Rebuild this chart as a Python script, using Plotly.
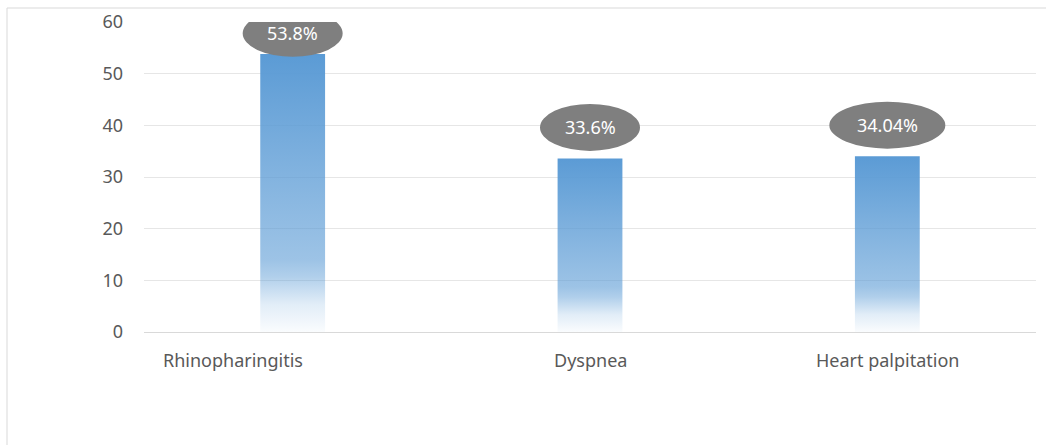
import plotly.graph_objects as go

categories = ["Rhinopharingitis", "Dyspnea", "Heart palpitation"]
values = [53.8, 33.6, 34.04]
value_labels = ["53.8%", "33.6%", "34.04%"]
y_ticks = [0, 10, 20, 30, 40, 50, 60]

FONT = "Noto Sans"
TEXT_COLOR = "#595959"
BAR_W = 0.218
FS = 18

grad = [
    [0.0, "rgba(91,155,213,0.03)"],
    [0.10, "rgba(91,155,213,0.18)"],
    [0.20, "rgba(91,155,213,0.48)"],
    [0.26, "rgba(91,155,213,0.60)"],
    [0.60, "rgba(91,155,213,0.78)"],
    [1.0, "rgba(91,155,213,1.0)"],
]

fig = go.Figure()
for i, (c, v) in enumerate(zip(categories, values)):
    fig.add_trace(go.Scatter(
        x=[i - BAR_W / 2, i + BAR_W / 2, i + BAR_W / 2, i - BAR_W / 2, i - BAR_W / 2],
        y=[0, 0, v, v, 0],
        mode="lines", fill="toself",
        line=dict(width=0, color="rgba(0,0,0,0)"),
        fillgradient=dict(type="vertical", colorscale=grad),
        name=c, showlegend=False, hoverinfo="skip",
    ))

shapes = []
annotations = []
for i, (v, lab) in enumerate(zip(values, value_labels)):
    cy = min(v + 6.0, 57.8)
    half_w = 50 if len(lab) <= 5 else 58
    shapes.append(dict(
        type="circle", xref="x", yref="y",
        xsizemode="pixel", ysizemode="pixel",
        xanchor=i, yanchor=cy,
        x0=-half_w, x1=half_w, y0=-23.5, y1=23.5,
        fillcolor="#7f7f7f", line=dict(width=0), layer="above",
    ))
    annotations.append(dict(
        x=i, y=cy, xref="x", yref="y", text=lab, showarrow=False,
        font=dict(family=FONT, size=FS, color="white"),
    ))

# category labels
x_label_shift = [-60, 0, 0]
for i, c in enumerate(categories):
    annotations.append(dict(
        x=i, y=0, xref="x", yref="y", text=c, showarrow=False,
        yanchor="top", yshift=-14, xshift=x_label_shift[i],
        font=dict(family=FONT, size=FS, color=TEXT_COLOR),
    ))

# outer frame (chart area border)
L, R, T, B = 144, 10, 22, 113
pw = 1046 - L - R
ph = 445 - T - B
fx = (7 - L) / pw
fy = 1 + (T - 8) / ph
shapes.append(dict(type="line", xref="paper", yref="paper", x0=fx, x1=1.05, y0=fy, y1=fy,
                   line=dict(color="#d9d9d9", width=1), layer="below"))
shapes.append(dict(type="line", xref="paper", yref="paper", x0=fx, x1=fx, y0=fy, y1=-0.5,
                   line=dict(color="#d9d9d9", width=1), layer="below"))

fig.update_layout(
    width=1046, height=445,
    margin=dict(l=L, r=R, t=T, b=B),
    paper_bgcolor="white", plot_bgcolor="white",
    font=dict(family=FONT, size=FS, color=TEXT_COLOR),
    xaxis=dict(range=[-0.5, 2.5], showgrid=False, zeroline=False, showticklabels=False,
               ticks="", showline=True, linecolor="#d9d9d9", linewidth=1),
    yaxis=dict(range=[0, 60], tickvals=y_ticks, showgrid=True, gridcolor="#e6e6e6",
               zeroline=False, showline=False, ticks="", ticklabelstandoff=20,
               tickfont=dict(family=FONT, size=FS, color=TEXT_COLOR)),
    shapes=shapes, annotations=annotations,
)

fig.write_html("out.html")
